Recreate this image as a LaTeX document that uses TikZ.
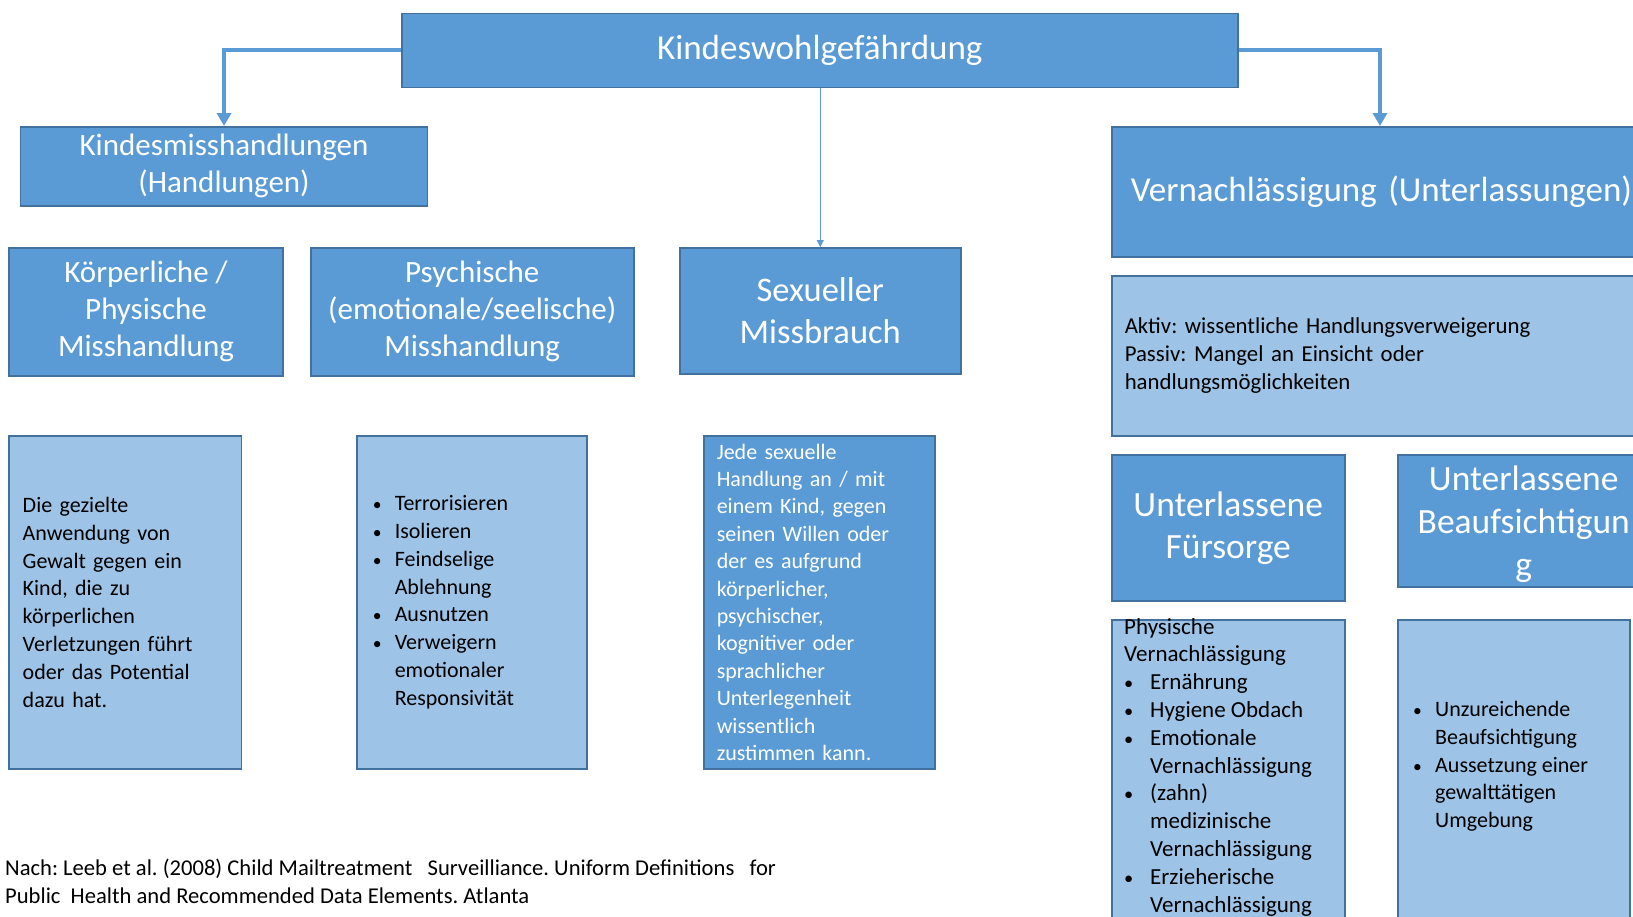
\documentclass[tikz,border=0pt]{standalone}
\usepackage{fontspec}
\setmainfont{Carlito}
\usetikzlibrary{arrows.meta}
\definecolor{dk}{HTML}{5B9BD5}
\definecolor{lt}{HTML}{9DC3E6}
\definecolor{bd}{HTML}{41719C}
\frenchspacing
\newcommand\bul{\makebox[22pt][l]{\scalebox{0.8}{\textbullet}}}
\newcommand\ind{\hspace*{22pt}}
\newcommand\bulb{\makebox[26pt][l]{\scalebox{0.8}{\textbullet}}}
\newcommand\indb{\hspace*{26pt}}
\tikzset{
  dbox/.style={draw=bd, fill=dk, text=white, line width=1.5pt, inner sep=0pt, anchor=north west, align=center},
  lbox/.style={draw=bd, fill=lt, text=black, line width=1.5pt, inner sep=0pt, anchor=north west},
  head/.style={font=\fontsize{31}{37}\selectfont},
  body/.style={font=\fontsize{22}{27.8}\selectfont},
  bigarr/.style={draw=dk, line width=4pt, -{Triangle[width=14pt,length=13pt]}},
  thinarr/.style={draw=dk, line width=1pt, -{Triangle[width=7pt,length=7pt]}}
}
\begin{document}
\begin{tikzpicture}[x=1pt,y=-1pt]
\useasboundingbox[fill=white] (0,0) rectangle (1633,916);

% top
\node[dbox, minimum width=836pt, minimum height=74pt, font=\fontsize{35}{40}\selectfont] (top) at (401,12.5) {Kindeswohlgefährdung};

% level 2
\node[dbox, head, minimum width=407pt, minimum height=79pt] (kind) at (19.8,126) {Kindesmisshandlungen\\(Handlungen)};
\node[dbox, font=\fontsize{35}{40}\selectfont, minimum height=130pt, text width=540pt, align=left, inner xsep=19pt] (vern) at (1111,126) {Vernachlässigung (Unterlassungen)};

% level 3
\node[dbox, head, minimum width=274pt, minimum height=128pt] (koerp) at (8.3,247) {Körperliche /\\Physische\\Misshandlung};
\node[dbox, head, minimum width=323pt, minimum height=128pt] (psych) at (310,247) {Psychische\\(emotionale/seelische)\\Misshandlung};
\node[dbox, font=\fontsize{34.5}{41.5}\selectfont, minimum width=281pt, minimum height=126pt] (sex) at (679,247) {Sexueller\\Missbrauch};
\node[lbox, font=\fontsize{22.8}{27.8}\selectfont, minimum height=160pt, text width=534pt, align=left, inner xsep=13pt] (aktiv) at (1111,275) {Aktiv: wissentliche Handlungsverweigerung\\Passiv: Mangel an Einsicht oder\\handlungsmöglichkeiten};

% level 4
\node[dbox, font=\fontsize{35.5}{42}\selectfont, minimum width=233pt, minimum height=146pt] (fuer) at (1111,454) {Unterlassene\\Fürsorge};
\node[dbox, font=\fontsize{35.5}{43}\selectfont, minimum width=252pt, minimum height=132pt, text depth=0pt] (beauf) at (1397,454) {\rule{0pt}{8pt}Unterlassene\\Beaufsichtigun\\g};

% description boxes
\node[lbox, body, minimum height=333pt, text width=205pt, align=left, inner xsep=13.7pt] (gez) at (8.3,435) {Die gezielte\\Anwendung von\\Gewalt gegen ein\\Kind, die zu\\körperlichen\\Verletzungen führt\\oder das Potential\\dazu hat.};
\node[lbox, body, minimum height=333pt, text width=198pt, align=left, inner xsep=16pt] (terr) at (356,435) {\bul Terrorisieren\\\bul Isolieren\\\bul Feindselige\\\ind Ablehnung\\\bul Ausnutzen\\\bul Verweigern\\\ind emotionaler\\\ind Responsivität};
\node[dbox, font=\fontsize{22}{27.4}\selectfont, minimum height=333pt, text width=205pt, align=left, inner xsep=13pt] (jede) at (703,435) {Jede sexuelle\\Handlung an / mit\\einem Kind, gegen\\seinen Willen oder\\der es aufgrund\\körperlicher,\\psychischer,\\kognitiver oder\\sprachlicher\\Unterlegenheit\\wissentlich\\zustimmen kann.};

\node[lbox, minimum width=233pt, minimum height=320pt] (phys) at (1111,619) {};
\node[font=\fontsize{23}{27.8}\selectfont, anchor=north west, inner sep=0pt, align=left] (physT) at (1124,618) {Physische\\Vernachlässigung\\\bulb Ernährung\\\bulb Hygiene Obdach\\\bulb Emotionale\\\indb Vernachlässigung\\\bulb (zahn)\\\indb medizinische\\\indb Vernachlässigung\\\bulb Erzieherische\\\indb Vernachlässigung};

\node[lbox, minimum width=232pt, minimum height=320pt] (unz) at (1397,619) {};
\node[body, anchor=north west, inner sep=0pt, align=left] (unzT) at (1413,701) {\bul Unzureichende\\\ind Beaufsichtigung\\\bul Aussetzung einer\\\ind gewalttätigen\\\ind Umgebung};

% footer
\node[font=\fontsize{22.6}{27.8}\selectfont, anchor=north west, inner sep=0pt, align=left] (foot) at (5,859) {Nach: Leeb et al. (2008) Child Mailtreatment\ \ \ Surveilliance. Uniform Definitions\ \ \ for\\Public\ \ Health and Recommended Data Elements. Atlanta};

% connectors
\coordinate (vtop) at (1380,126);
\draw[bigarr] (top.west) -| (kind.north);
\draw[bigarr] (top.east) -| (vtop);
\draw[thinarr] (sex.north |- top.south) -- (sex.north);
\end{tikzpicture}
\end{document}
